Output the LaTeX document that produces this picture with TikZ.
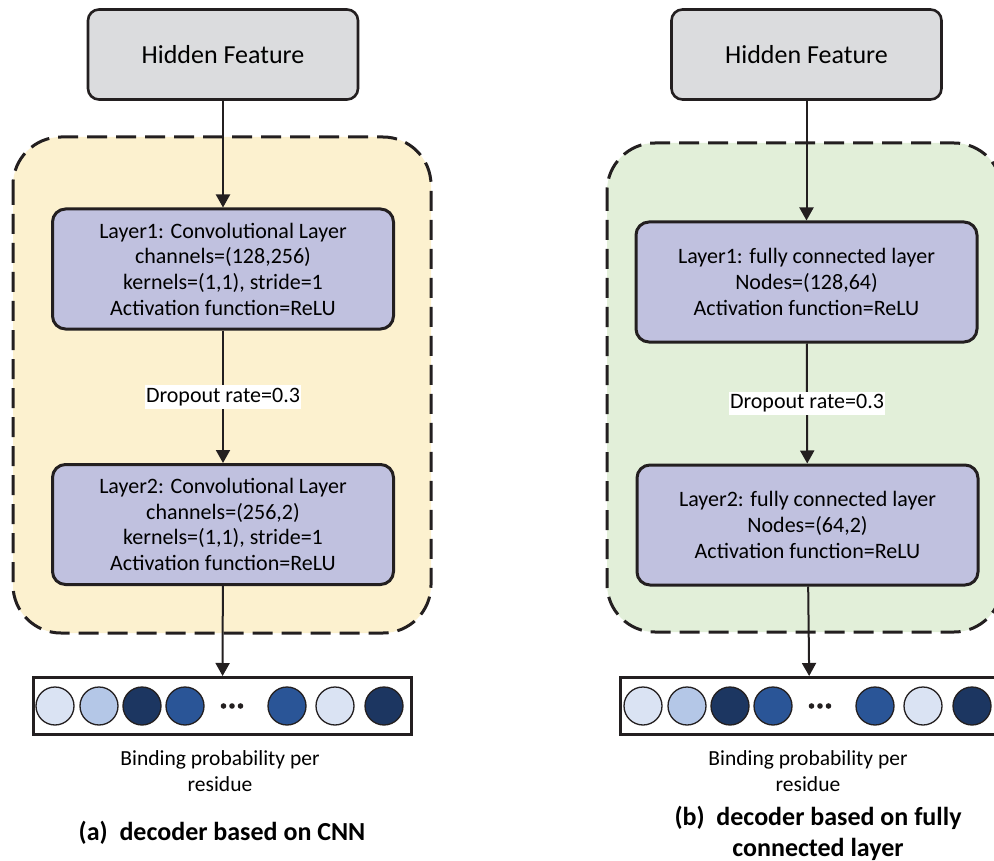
\documentclass[tikz,border=0pt]{standalone}
\usepackage{fontspec}
\setmainfont{Carlito}
\usetikzlibrary{arrows.meta,positioning}

\definecolor{lineC}{HTML}{231F20}
\definecolor{grayF}{HTML}{DBDCDE}
\definecolor{lavF}{HTML}{C0C1DF}
\definecolor{yelF}{HTML}{FCF1CF}
\definecolor{grnF}{HTML}{E2EFD9}
\definecolor{cLight}{HTML}{DAE3F3}
\definecolor{cPale}{HTML}{B4C7E7}
\definecolor{cDark}{HTML}{1C3661}
\definecolor{cMid}{HTML}{2A5597}

\tikzset{
	hidbox/.style={draw=lineC, line width=2.6pt, rounded corners=11pt, fill=grayF,
		minimum width=270pt, minimum height=90pt, font=\fontsize{26}{30}\selectfont},
	layerbox/.style={draw=lineC, line width=3pt, rounded corners=13pt, fill=lavF,
		minimum width=341pt, minimum height=120pt, align=center,
		font=\fontsize{22}{25.7}\selectfont},
	group/.style={draw=lineC, line width=3pt, dash pattern=on 20pt off 9pt,
		rounded corners=48pt},
	arr/.style={draw=lineC, line width=2pt, -{Triangle[width=14pt,length=13pt]}},
	droplbl/.style={fill=white, inner xsep=1.5pt, inner ysep=3pt,
		font=\fontsize{22}{25}\selectfont},
	outbar/.style={draw=lineC, line width=3pt, minimum width=378pt,
		minimum height=57pt, inner sep=0pt},
	resid/.style={circle, draw=lineC, line width=1.3pt, minimum size=38pt, inner sep=0pt},
	capt/.style={align=center, font=\fontsize{21.5}{26}\selectfont},
	subtitle/.style={align=center, font=\fontsize{26}{31}\selectfont\bfseries}
}

\begin{document}
\begin{tikzpicture}[x=1pt, y=-1pt]

\useasboundingbox (0,0) rectangle (994,861);

% (a) decoder based on CNN
\draw[group, fill=yelF] (13,137) rectangle (431,633);

\node[hidbox] (hidA) at (223,54.5) {Hidden Feature};
\node[layerbox] (convA) at (223,269) {Layer1: Convolutional Layer\\channels=(128,256)\\kernels=(1,1), stride=1\\Activation function=ReLU};
\node[layerbox] (convB) at (223,524.5) {Layer2: Convolutional Layer\\channels=(256,2)\\kernels=(1,1), stride=1\\Activation function=ReLU};
\node[outbar] (outA) at (222.5,706) {};

\draw[arr] (hidA) -- (convA);
\draw[arr] (convA) -- (convB) node[droplbl, midway] (dropA) {Dropout rate=0.3};
\draw[arr] (convB) -- (outA);

	\foreach \x/\c [count=\i] in {55/cLight, 99/cPale, 142/cDark, 185/cMid, 287/cMid, 335/cLight, 384/cDark}
		\node[resid, fill=\c] (resA\i) at (\x,706) {};
	\foreach \x in {223.5, 232, 240.5}
		\fill[lineC] (\x,706) circle (2.8pt);

\node[capt] (captA) at (220,771) {Binding probability per\\residue};
\node[subtitle] (titA) at (222,833) {(a)\ \ decoder based on CNN};

% (b) decoder based on fully connected layer
\draw[group, fill=grnF] (607,143) rectangle (1002,632);

\node[hidbox] (hidB) at (806.5,54.5) {Hidden Feature};
\node[layerbox] (fcA) at (806.5,282) {Layer1: fully connected layer\\Nodes=(128,64)\\Activation function=ReLU};
\node[layerbox] (fcB) at (807.5,525) {Layer2: fully connected layer\\Nodes=(64,2)\\Activation function=ReLU};
\node[outbar] (outB) at (809.5,706) {};

\draw[arr] (hidB) -- (fcA);
\draw[arr] (fcA) -- (fcB) node[droplbl, midway] (dropB) {Dropout rate=0.3};
\draw[arr] (fcB) -- (outB);

\begin{scope}[xshift=588pt]
	\foreach \x/\c [count=\i] in {55/cLight, 99/cPale, 142/cDark, 185/cMid, 287/cMid, 335/cLight, 384/cDark}
		\node[resid, fill=\c] (resB\i) at (\x,706) {};
	\foreach \x in {223.5, 232, 240.5}
		\fill[lineC] (\x,706) circle (2.8pt);
\end{scope}

\node[capt] (captB) at (808,771) {Binding probability per\\residue};
\node[subtitle] (titB) at (818,833) {(b)\ \ decoder based on fully\\connected layer};

\end{tikzpicture}
\end{document}
